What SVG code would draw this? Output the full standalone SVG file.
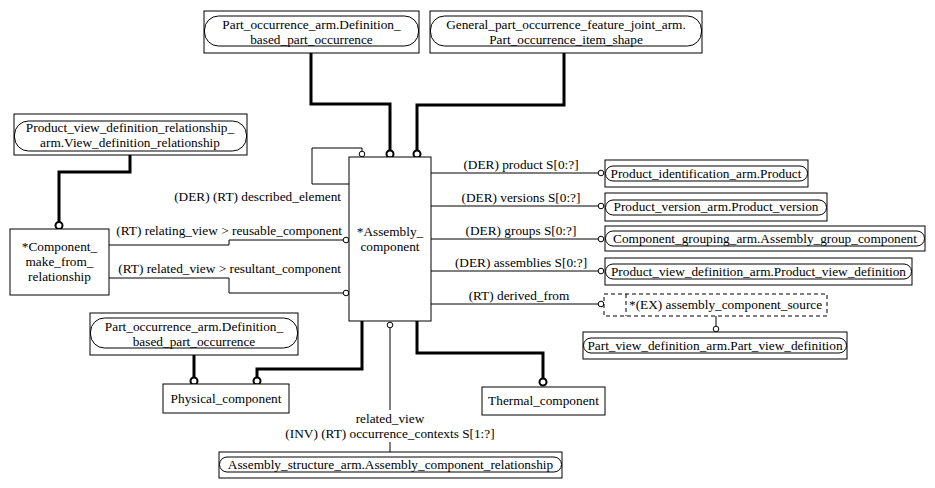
<svg xmlns="http://www.w3.org/2000/svg" width="935" height="488" viewBox="0 0 935 488">
<style>
  .box { fill: #fff; stroke: #000; stroke-width: 1; }
  .rnd { fill: none; stroke: #000; stroke-width: 1; }
  .dash { fill: #fff; stroke: #000; stroke-width: 1; stroke-dasharray: 4 3; }
  .t { font-family: "Liberation Serif", "Times New Roman", serif; font-size: 13.3px; fill: #000; }
  .m { text-anchor: middle; }
  .e { text-anchor: end; }
  .thick { fill: none; stroke: #000; stroke-width: 3; }
  .thin { fill: none; stroke: #000; stroke-width: 1; }
  .cb { fill: #fff; stroke: #000; stroke-width: 2; }
  .ct { fill: #fff; stroke: #000; stroke-width: 1; }
</style>
<rect width="935" height="488" fill="#fff"/>

<g id="connectors">
  <path class="thick" d="M311,53 V104 H390 V150.5"/>
  <circle class="cb" cx="390" cy="154" r="3.5"/>
  <path class="thick" d="M564,53 V105 H417 V150.5"/>
  <circle class="cb" cx="417" cy="154" r="3.5"/>
  <path class="thick" d="M130,155 V172 H59 V222"/>
  <circle class="cb" cx="59" cy="225.5" r="3.5"/>
  <path class="thick" d="M194,355 V377.5"/>
  <circle class="cb" cx="194" cy="381" r="3.5"/>
  <path class="thick" d="M362,321 V369 H257 V377.5"/>
  <circle class="cb" cx="257" cy="381" r="3.5"/>
  <path class="thick" d="M417,321 V353 H543 V378.5"/>
  <circle class="cb" cx="543" cy="382" r="3.5"/>

  <path class="thin" d="M349,184 H312 V148 H362 V151"/>
  <circle class="ct" cx="362" cy="154" r="2.8"/>
  <path class="thin" d="M109,245 H229 V240 H343"/>
  <circle class="ct" cx="346" cy="240" r="2.8"/>
  <path class="thin" d="M109,278 H229 V293 H343"/>
  <circle class="ct" cx="346" cy="293" r="2.8"/>

  <path class="thin" d="M431,173 H598"/>
  <circle class="ct" cx="601" cy="173" r="2.8"/>
  <path class="thin" d="M431,206 H598"/>
  <circle class="ct" cx="601" cy="206" r="2.8"/>
  <path class="thin" d="M431,239 H598"/>
  <circle class="ct" cx="601" cy="239" r="2.8"/>
  <path class="thin" d="M431,271 H598"/>
  <circle class="ct" cx="601" cy="271" r="2.8"/>
  <path class="thin" d="M431,304 H598"/>
  <circle class="ct" cx="601" cy="304" r="2.8"/>

  <path class="thin" d="M716,316 V326"/>
  <circle class="ct" cx="716" cy="329" r="2.8"/>

  <circle class="ct" cx="390" cy="325" r="2.8"/>
  <path class="thin" d="M390,328 V410 M390,442 V452"/>

  <text class="t e" x="341" y="201">(DER) (RT) described_element</text>
  <text class="t e" x="342" y="235">(RT) relating_view &gt; reusable_component</text>
  <text class="t e" x="341" y="273">(RT) related_view &gt; resultant_component</text>
  <text class="t m" x="521" y="169">(DER) product S[0:?]</text>
  <text class="t m" x="521" y="202">(DER) versions S[0:?]</text>
  <text class="t m" x="521" y="235">(DER) groups S[0:?]</text>
  <text class="t m" x="521" y="267">(DER) assemblies S[0:?]</text>
  <text class="t m" x="519" y="300">(RT) derived_from</text>
  <text class="t m" x="390" y="423">related_view</text>
  <text class="t m" x="390" y="438">(INV) (RT) occurrence_contexts S[1:?]</text>
</g>

<g id="node-part-occurrence-top">
  <rect class="box" x="204" y="11" width="215" height="42"/>
  <rect class="rnd" x="204.5" y="16" width="214" height="30" rx="14" ry="14"/>
  <text class="t m" x="311.5" y="29">Part_occurrence_arm.Definition_</text>
  <text class="t m" x="311.5" y="44">based_part_occurrence</text>
</g>

<g id="node-general-part-occurrence">
  <rect class="box" x="430" y="11" width="272" height="42"/>
  <rect class="rnd" x="430.5" y="16" width="271" height="30" rx="14" ry="14"/>
  <text class="t m" x="566" y="29">General_part_occurrence_feature_joint_arm.</text>
  <text class="t m" x="566" y="44">Part_occurrence_item_shape</text>
</g>

<g id="node-product-view-definition-relationship">
  <rect class="box" x="14" y="114" width="233" height="41"/>
  <rect class="rnd" x="14.5" y="121" width="232" height="30" rx="14" ry="14"/>
  <text class="t m" x="130" y="132">Product_view_definition_relationship_</text>
  <text class="t m" x="130" y="147">arm.View_definition_relationship</text>
</g>

<g id="node-component-make-from-relationship">
  <rect class="box" x="10" y="229" width="99" height="66"/>
  <text class="t m" x="59.5" y="251">*Component_</text>
  <text class="t m" x="59.5" y="266">make_from_</text>
  <text class="t m" x="59.5" y="281">relationship</text>
</g>

<g id="node-assembly-component">
  <rect class="box" x="349" y="157" width="82" height="164"/>
  <text class="t m" x="390" y="236">*Assembly_</text>
  <text class="t m" x="390" y="251">component</text>
</g>

<g id="node-product">
  <rect class="box" x="605" y="160" width="203" height="27"/>
  <rect class="rnd" x="605.5" y="166" width="202" height="15" rx="7.5" ry="7.5"/>
  <text class="t m" x="706" y="178">Product_identification_arm.Product</text>
</g>

<g id="node-product-version">
  <rect class="box" x="605" y="193" width="222" height="28"/>
  <rect class="rnd" x="605.5" y="200" width="221" height="15" rx="7.5" ry="7.5"/>
  <text class="t m" x="716" y="211">Product_version_arm.Product_version</text>
</g>

<g id="node-assembly-group-component">
  <rect class="box" x="605" y="226" width="320" height="25"/>
  <rect class="rnd" x="605.5" y="231" width="319" height="15" rx="7.5" ry="7.5"/>
  <text class="t m" x="765" y="243">Component_grouping_arm.Assembly_group_component</text>
</g>

<g id="node-product-view-definition">
  <rect class="box" x="605" y="258" width="307" height="27"/>
  <rect class="rnd" x="605.5" y="264" width="306" height="15" rx="7.5" ry="7.5"/>
  <text class="t m" x="758.5" y="276">Product_view_definition_arm.Product_view_definition</text>
</g>

<g id="node-assembly-component-source">
  <rect class="dash" x="604" y="294" width="223" height="22"/>
  <path class="dash" d="M626,294 V316"/>
  <text class="t" x="629" y="309">*(EX) assembly_component_source</text>
</g>

<g id="node-part-view-definition">
  <rect class="box" x="583" y="332" width="264" height="27"/>
  <rect class="rnd" x="583.5" y="338" width="263" height="15" rx="7.5" ry="7.5"/>
  <text class="t m" x="715" y="350">Part_view_definition_arm.Part_view_definition</text>
</g>

<g id="node-part-occurrence-bottom">
  <rect class="box" x="90" y="313" width="208" height="42"/>
  <rect class="rnd" x="90.5" y="318" width="207" height="30" rx="14" ry="14"/>
  <text class="t m" x="194" y="331">Part_occurrence_arm.Definition_</text>
  <text class="t m" x="194" y="346">based_part_occurrence</text>
</g>

<g id="node-physical-component">
  <rect class="box" x="163" y="384" width="126" height="29"/>
  <text class="t m" x="226" y="403">Physical_component</text>
</g>

<g id="node-thermal-component">
  <rect class="box" x="482" y="387" width="123" height="28"/>
  <text class="t m" x="543.5" y="405">Thermal_component</text>
</g>

<g id="node-assembly-component-relationship">
  <rect class="box" x="219" y="452" width="343" height="26"/>
  <rect class="rnd" x="219.5" y="457" width="342" height="15" rx="7.5" ry="7.5"/>
  <text class="t m" x="390.5" y="469">Assembly_structure_arm.Assembly_component_relationship</text>
</g>
</svg>
